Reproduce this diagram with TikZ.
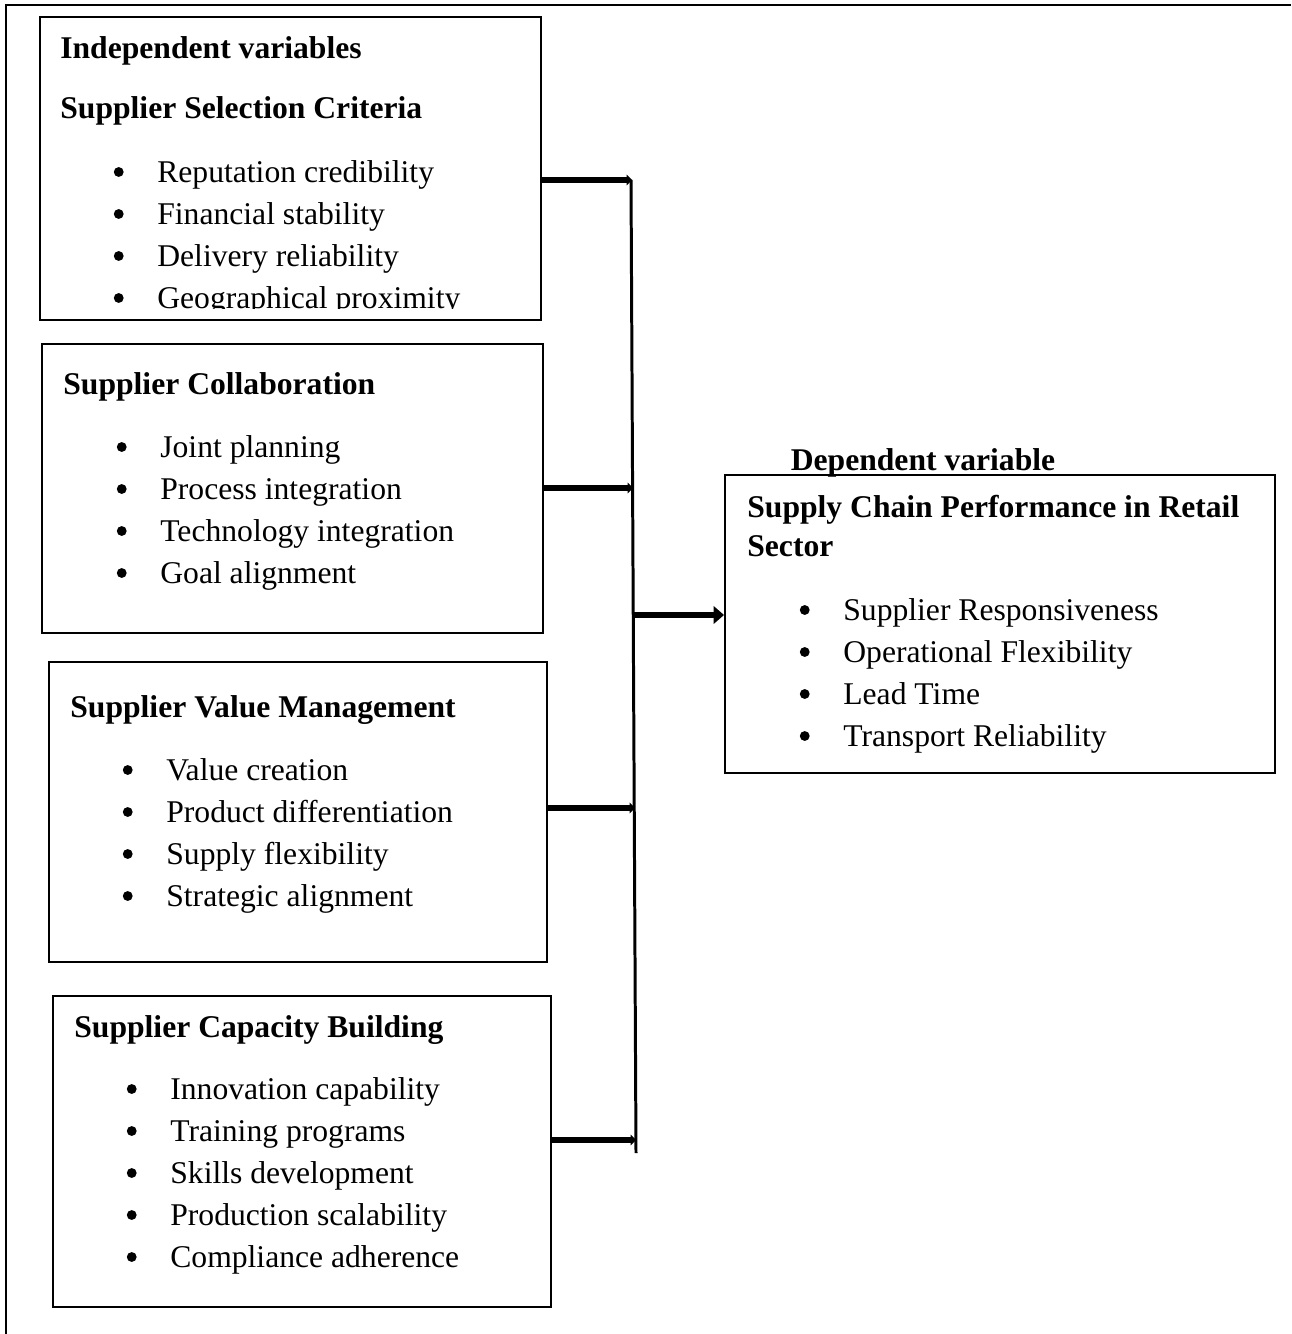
\documentclass[tikz,border=0pt]{standalone}
\usepackage{fontspec}
\setmainfont{Liberation Serif}
\usetikzlibrary{arrows.meta}

\begin{document}
\fontsize{18pt}{22pt}\selectfont
\begin{tikzpicture}[
    x=0.02cm, y=-0.02cm,
    box/.style={draw, line width=1.1pt, inner sep=0pt},
    head/.style={anchor=west, inner sep=0pt, font=\bfseries, text height=12pt, text depth=0pt},
    item/.style={anchor=west, inner sep=0pt, text height=12pt, text depth=0pt,
        label={[circle, fill, inner sep=0pt, minimum size=5.6pt, label distance=0.66cm]180:{}}},
    feed/.style={line width=3.4pt, -{Triangle[length=3pt,width=6pt]}},
]
    \useasboundingbox (0, 0) rectangle (1291, 1334);
    \draw[line width=1.1pt] (6, 1334) -- (6, 5) -- (1291, 5);

    % independent variables
    \node[box, minimum width=501*0.02cm, minimum height=303*0.02cm] (sel) at (290.5, 168.5) {};
    \node[head] (indep) at (60, 48) {Independent variables};
    \node[head] (selH) at (60, 108) {Supplier Selection Criteria};
    \begin{scope}
        \clip (40, 17) rectangle (541, 309);
        \node[item] (sel1) at (157, 172) {Reputation credibility};
        \node[item] (sel2) at (157, 214) {Financial stability};
        \node[item] (sel3) at (157, 256) {Delivery reliability};
        \node[item] (sel4) at (157, 298) {Geographical proximity};
    \end{scope}

    \node[box, minimum width=501*0.02cm, minimum height=289*0.02cm] (coll) at (292.5, 488.5) {};
    \node[head] (collH) at (63, 384) {Supplier Collaboration};
    \node[item] (coll1) at (160, 447) {Joint planning};
    \node[item] (coll2) at (160, 489) {Process integration};
    \node[item] (coll3) at (160, 531) {Technology integration};
    \node[item] (coll4) at (160, 573) {Goal alignment};

    \node[box, minimum width=498*0.02cm, minimum height=300*0.02cm] (val) at (298, 812) {};
    \node[head] (valH) at (70, 707) {Supplier Value Management};
    \node[item] (val1) at (166, 770) {Value creation};
    \node[item] (val2) at (166, 812) {Product differentiation};
    \node[item] (val3) at (166, 854) {Supply flexibility};
    \node[item] (val4) at (166, 896) {Strategic alignment};

    \node[box, minimum width=498*0.02cm, minimum height=311*0.02cm] (cap) at (302, 1151.5) {};
    \node[head] (capH) at (74, 1027) {Supplier Capacity Building};
    \node[item] (cap1) at (170, 1089) {Innovation capability};
    \node[item] (cap2) at (170, 1131) {Training programs};
    \node[item] (cap3) at (170, 1173) {Skills development};
    \node[item] (cap4) at (170, 1215) {Production scalability};
    \node[item] (cap5) at (170, 1257) {Compliance adherence};

    % dependent variable
    \node[box, minimum width=550*0.02cm, minimum height=298*0.02cm] (perf) at (1000, 624) {};
    \node[head, anchor=center] (dep) at (923, 460) {Dependent variable};
    \node[head] (perfH1) at (747, 507) {Supply Chain Performance in Retail};
    \node[head] (perfH2) at (747, 546) {Sector};
    \node[item] (perf1) at (843, 610) {Supplier Responsiveness};
    \node[item] (perf2) at (843, 652) {Operational Flexibility};
    \node[item] (perf3) at (843, 694) {Lead Time};
    \node[item] (perf4) at (843, 736) {Transport Reliability};

    % connectors
    \coordinate (top) at (631, 180);
    \coordinate (bot) at (636, 1153);
    \coordinate (j1) at (632, 180);
    \coordinate (j2) at (633, 488);
    \coordinate (jm) at (633, 615);
    \coordinate (j3) at (635, 808);
    \coordinate (j4) at (636, 1140);
    \draw[line width=1.7pt] (top) -- (bot);
    \draw[feed] (sel.east |- j1) -- (j1);
    \draw[feed] (coll.east |- j2) -- (j2);
    \draw[feed] (val.east |- j3) -- (j3);
    \draw[feed] (cap.east |- j4) -- (j4);
    \draw[line width=3.6pt, -{Triangle[length=6pt,width=10pt]}] (jm) -- (perf.west |- jm);
\end{tikzpicture}
\end{document}
